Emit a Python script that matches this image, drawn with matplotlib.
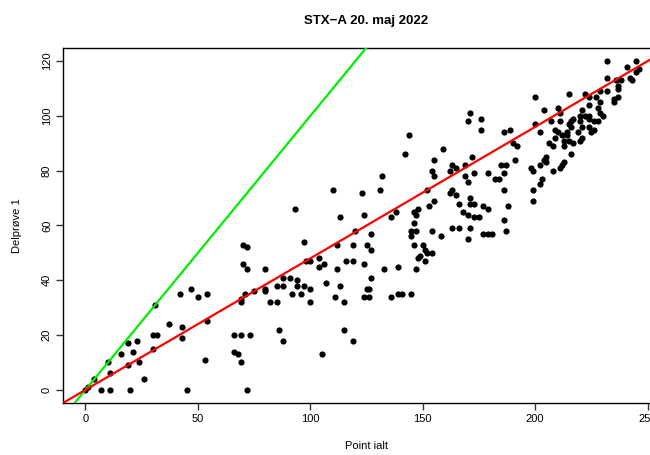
import matplotlib
matplotlib.use("Agg")
import matplotlib.pyplot as plt

plt.rcParams['font.family'] = ['Liberation Sans', 'DejaVu Sans']

# Point ialt (x) og Delprøve 1 (y)
point_ialt = [
    0, 1, 4, 7, 11, 10, 11, 16, 19, 21, 23, 19, 24, 20, 26, 30, 30, 32, 31, 37,
    43, 43, 42, 47, 50, 54, 54, 53, 45,
    70, 72, 70, 72, 80, 97, 98, 100, 104, 106, 104, 112, 112, 107, 113, 111,
    88, 91, 94, 94, 97, 100, 92, 96, 100, 85, 88, 80, 80, 75, 71, 69, 69, 82,
    85, 86, 88, 105, 66, 69, 73, 66, 68, 69, 72,
    142, 159, 155, 172, 154, 155, 163, 165, 162, 169, 169, 173, 179, 170, 132,
    110, 123, 131, 152, 163, 162, 165, 171, 166, 171, 173, 177, 179, 155, 153,
    148, 146, 147, 138, 136, 93, 113, 124, 168, 170, 173, 175, 146, 120, 127,
    145, 147, 145, 154, 158, 163, 166, 171, 170, 177, 179,
    171, 170, 176, 176, 144,
    232, 245, 241, 246, 245, 232, 236, 242, 243, 238, 237, 237, 232, 229, 237,
    235, 235, 227, 224, 222, 215, 200, 229, 228, 224, 221, 229, 230, 210, 204,
    211, 220, 222, 224, 228, 226, 224, 224, 226, 225, 220, 221, 216, 217, 215,
    216, 219, 214, 212, 210, 209, 211, 207, 200, 202, 209, 214, 215, 213, 217,
    220, 221, 206, 208, 213, 186, 189, 190, 192,
    216, 205, 204, 205, 202, 198, 199, 208, 211, 212, 213, 191, 185, 187, 186,
    182, 184, 203, 202, 186, 199, 199, 188, 186, 181, 187,
    119, 125, 127, 116, 119, 124, 133, 139, 146, 150, 151, 152, 154, 149, 148,
    151, 147, 127, 115, 125, 126, 124, 126, 136, 139, 141, 145, 115, 119,
]
delproeve_1 = [
    0, 1, 4, 0, 0, 10, 6, 13, 17, 14, 18, 9, 10, 0, 4, 15, 20, 20, 31, 24,
    23, 19, 35, 37, 34, 35, 25, 11, 0,
    53, 52, 46, 44, 44, 54, 47, 47, 48, 46, 45, 53, 44, 39, 38, 34,
    41, 41, 40, 38, 38, 37, 35, 35, 32, 38, 38, 37, 36, 36, 35, 33, 32, 32,
    32, 22, 18, 13, 20, 20, 20, 14, 13, 10, 0,
    86, 88, 84, 85, 80, 78, 82, 81, 80, 82, 78, 79, 79, 76, 78,
    73, 72, 73, 73, 73, 72, 71, 70, 68, 68, 68, 67, 66, 69, 67,
    66, 65, 64, 65, 63, 66, 63, 64, 65, 64, 63, 63, 61, 58, 57,
    58, 58, 56, 58, 56, 59, 59, 59, 55, 57, 57,
    101, 98, 99, 95, 93,
    120, 120, 118, 117, 116, 114, 113, 114, 113, 113, 111, 110, 109, 109, 107,
    106, 105, 107, 107, 108, 108, 107, 105, 103, 104, 102, 101, 100, 103, 102,
    101, 100, 100, 100, 98, 98, 99, 96, 95, 94, 98, 96, 98, 99, 97,
    96, 94, 94, 93, 94, 95, 98, 98, 97, 94, 92, 93, 91, 91, 90,
    91, 92, 90, 89, 89, 94, 95, 90, 89,
    86, 85, 84, 83, 82, 81, 80, 80, 81, 82, 83, 84, 82, 82, 79,
    77, 77, 77, 75, 73, 73, 69, 67, 62, 57, 58,
    53, 53, 51, 47, 47, 46, 44, 45, 53, 53, 51, 50, 50, 49, 48,
    47, 44, 41, 32, 37, 37, 34, 34, 34, 35, 35, 35, 22, 18,
]

x_ticks = [0, 50, 100, 150, 200, 250]
y_ticks = [0, 20, 40, 60, 80, 100, 120]
max_ialt = 250
max_delproeve = 120

fig = plt.figure(figsize=(6.5, 4.55), dpi=100)
# aksen går ud over højre kant, ligesom det beskårne billede
ax = fig.add_axes([63 / 650, 52 / 455, 607 / 650, 355 / 455])

ax.scatter(point_ialt, delproeve_1, s=20, color='black', linewidths=0, zorder=2)
ax.axline((0, 0), slope=1, color='#00ee00', linewidth=1.6, zorder=3)
ax.axline((0, 0), slope=max_delproeve / max_ialt, color='#ff0000', linewidth=1.6, zorder=3)

ax.set_xlim(-10, 260)
ax.set_ylim(-4.8, 124.8)
ax.set_xticks(x_ticks)
ax.set_yticks(y_ticks)
ax.tick_params(direction='out', length=5, width=1, color='#333333', labelsize=8, pad=3)
for lab in ax.get_yticklabels():
    lab.set_rotation(90)
    lab.set_va('center')
for sp in ax.spines.values():
    sp.set_linewidth(1)
    sp.set_color('black')

ax.set_xlabel('Point ialt', fontsize=8, labelpad=12)
ax.set_ylabel('Delprøve 1', fontsize=8, labelpad=14)
ax.set_title('STX\u2212A 20. maj 2022', fontsize=9.5, fontweight='bold', pad=17)

fig.savefig('out.png', dpi=100)
